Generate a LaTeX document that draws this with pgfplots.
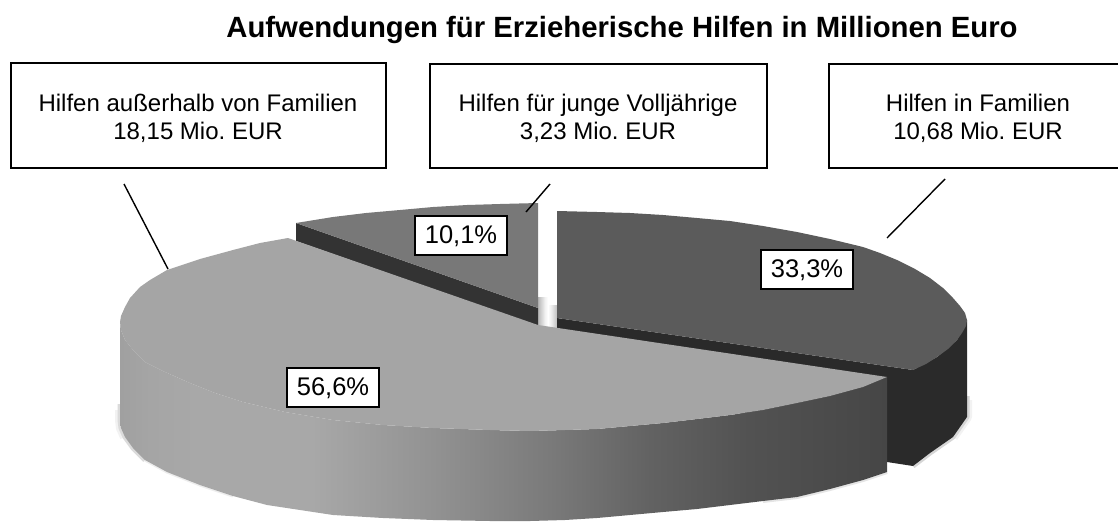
\documentclass[border=0pt]{standalone}
\usepackage{pgfplots}
\pgfplotsset{compat=1.18}
\usepackage{fontspec}
\setmainfont{Liberation Sans}
\frenchspacing
\definecolor{wa}{HTML}{A0A0A0}
\definecolor{wb}{HTML}{A5A5A5}
\definecolor{wc}{HTML}{A8A8A8}
\definecolor{wd}{HTML}{929292}
\definecolor{we}{HTML}{7A7A7A}
\definecolor{wf}{HTML}{626262}
\definecolor{wg}{HTML}{525252}
\definecolor{wh}{HTML}{464646}
\definecolor{maintop}{HTML}{A5A5A5}
\definecolor{righttop}{HTML}{5B5B5B}
\definecolor{rightdark}{HTML}{2A2A2A}
\definecolor{smalltop}{HTML}{787878}
\definecolor{smalldark}{HTML}{333333}
\pgfdeclarehorizontalshading{wall}{100bp}{color(0bp)=(wa); color(25bp)=(wa); color(27bp)=(wb); color(30bp)=(wc); color(37.5bp)=(wc); color(45.4bp)=(wd); color(53bp)=(we); color(59.6bp)=(wf); color(66bp)=(wg); color(75bp)=(wh); color(100bp)=(wh)}
\pgfdeclarehorizontalshading{gapa}{100bp}{color(0bp)=(white!72!black); color(25bp)=(white!72!black); color(60bp)=(white!95!black); color(75bp)=(white); color(100bp)=(white)}
\pgfdeclarehorizontalshading{gapb}{100bp}{color(0bp)=(white); color(25bp)=(white); color(45bp)=(white!92!black); color(75bp)=(white!75!black); color(100bp)=(white!75!black)}
\begin{document}
\begin{tikzpicture}
\useasboundingbox (0,0) rectangle (1118pt,522pt);
\begin{axis}[
  at={(0,0)}, anchor=south west,
  width=1118pt, height=522pt, scale only axis, hide axis,
  xmin=0, xmax=1118, ymin=0, ymax=522, y dir=reverse, clip=false]
% soft shadow around the bottom edge
\addplot[draw=black!5, line width=10pt, line join=round] coordinates {(120,410)(120,420)(121,428)(125,437)};
\addplot[draw=black!14, line width=5pt, line join=round] coordinates {(120,404)(120,420)(121,428)(125,437)(133,448)(145,460)};
\addplot[draw=black!7, line width=3pt, line join=round] coordinates {(145,460)(167,472)(200,485)(233,496)};
\addplot[draw=black!5, line width=10pt, line join=round] coordinates {(967,400)(967,417)(953,437)};
\addplot[draw=black!16, line width=5pt, line join=round] coordinates {(967,396)(967,417)(953,437)(930,453)(913,466)};
\addplot[draw=black!10, line width=4pt, line join=round] coordinates {(887,472)(863,480)(830,489)(797,497)(763,501)};
% shadows in the gap
\addplot[shading=gapa, draw=none] coordinates {(538,297)(548,297)(548,325)(538,325)} -- cycle;
\addplot[shading=gapb, draw=none] coordinates {(548,305)(557,305)(557,327)(548,327)} -- cycle;
% slice 10,1 %
\addplot[fill=smalldark, draw=none] coordinates {(296,223)(538,308)(538,326)(296,241)} -- cycle;
\addplot[fill=smalltop, draw=none] coordinates {(296,223)(333,217)(366,213)(400,210)(433,207)(467,205)(500,204)(538,203)(538,308)} -- cycle;
% slice 33,3 %
\addplot[fill=rightdark, draw=none] coordinates {(557,318)(913,370)(937,357)(957,340)(967,320)(967,417)(953,437)(930,453)(913,466)(887,462)(700,400)(557,340)} -- cycle;
\addplot[fill=righttop, draw=none] coordinates {(557,211)(597,212)(630,213)(663,215)(697,218)(730,221)(763,226)(797,232)(830,239)(863,247)(880,253)(897,260)(915,269)(930,278)(943,288)(953,298)(960,306)(965,313)(967,320)(966,326)(962,333)(957,340)(948,349)(937,357)(926,364)(913,370)(557,318)} -- cycle;
% slice 56,6 %: wall and top
\addplot[shading=wall, draw=none] coordinates {(120,322)(121,330)(125,340)(133,350)(145,362)(165,372)(190,383)(215,393)(243,402)(285,412)(333,420)(383,425)(433,428)(490,430)(530,431)(565,430)(597,429)(630,426)(663,423)(697,419)(730,415)(763,410)(797,403)(830,396)(863,387)(887,377)(887,472)(863,480)(830,489)(797,497)(763,501)(730,505)(697,509)(663,512)(630,515)(597,518)(565,520)(530,521)(490,521)(433,520)(383,518)(333,515)(300,510)(267,505)(233,496)(200,485)(167,472)(145,460)(133,448)(125,437)(121,428)(120,420)} -- cycle;
\addplot[fill=maintop, draw=none] coordinates {(288,238)(260,243)(233,250)(200,259)(167,270)(150,280)(140,287)(130,298)(125,307)(121,316)(120,322)(121,330)(125,340)(133,350)(145,362)(165,372)(190,383)(215,393)(243,402)(285,412)(333,420)(383,425)(433,428)(490,430)(530,431)(565,430)(597,429)(630,426)(663,423)(697,419)(730,415)(763,410)(797,403)(830,396)(863,387)(887,377)(538,325)} -- cycle;
% leader lines
\addplot[black, line width=1.4pt] coordinates {(124,184)(168,269)};
\addplot[black, line width=1.4pt] coordinates {(550,184)(526,212)};
\addplot[black, line width=1.4pt] coordinates {(945,179)(887,238)};
% callout boxes
\addplot[fill=white, draw=black, line width=1.6pt] coordinates {(11,63)(386,63)(386,168)(11,168)} -- cycle;
\addplot[fill=white, draw=black, line width=1.6pt] coordinates {(430,64)(767,64)(767,168)(430,168)} -- cycle;
\addplot[fill=white, draw=black, line width=1.6pt] coordinates {(829,64)(1126,64)(1126,168)(829,168)} -- cycle;
\addplot[fill=white, draw=black, line width=1.6pt] coordinates {(415,216)(507,216)(507,255)(415,255)} -- cycle;
\addplot[fill=white, draw=black, line width=1.6pt] coordinates {(287,368)(379,368)(379,407)(287,407)} -- cycle;
\addplot[fill=white, draw=black, line width=1.6pt] coordinates {(761,250)(853,250)(853,289)(761,289)} -- cycle;
% text
\node[font=\fontsize{29.3}{33}\selectfont\bfseries] at (axis cs:622,30) {Aufwendungen für Erzieherische Hilfen in Millionen Euro};
\node[align=center, font=\fontsize{24}{28}\selectfont] at (axis cs:198,118) {Hilfen außerhalb von Familien\\18,15 Mio. EUR};
\node[align=center, font=\fontsize{24}{28}\selectfont] at (axis cs:598,118) {Hilfen für junge Volljährige\\3,23 Mio. EUR};
\node[align=center, font=\fontsize{24}{28}\selectfont] at (axis cs:978,118) {Hilfen in Familien\\10,68 Mio. EUR};
\node[font=\fontsize{25.5}{29}\selectfont] at (axis cs:461,236) {10,1\%};
\node[font=\fontsize{25.5}{29}\selectfont] at (axis cs:333,388) {56,6\%};
\node[font=\fontsize{25.5}{29}\selectfont] at (axis cs:807,270) {33,3\%};
\end{axis}
\end{tikzpicture}
\end{document}
